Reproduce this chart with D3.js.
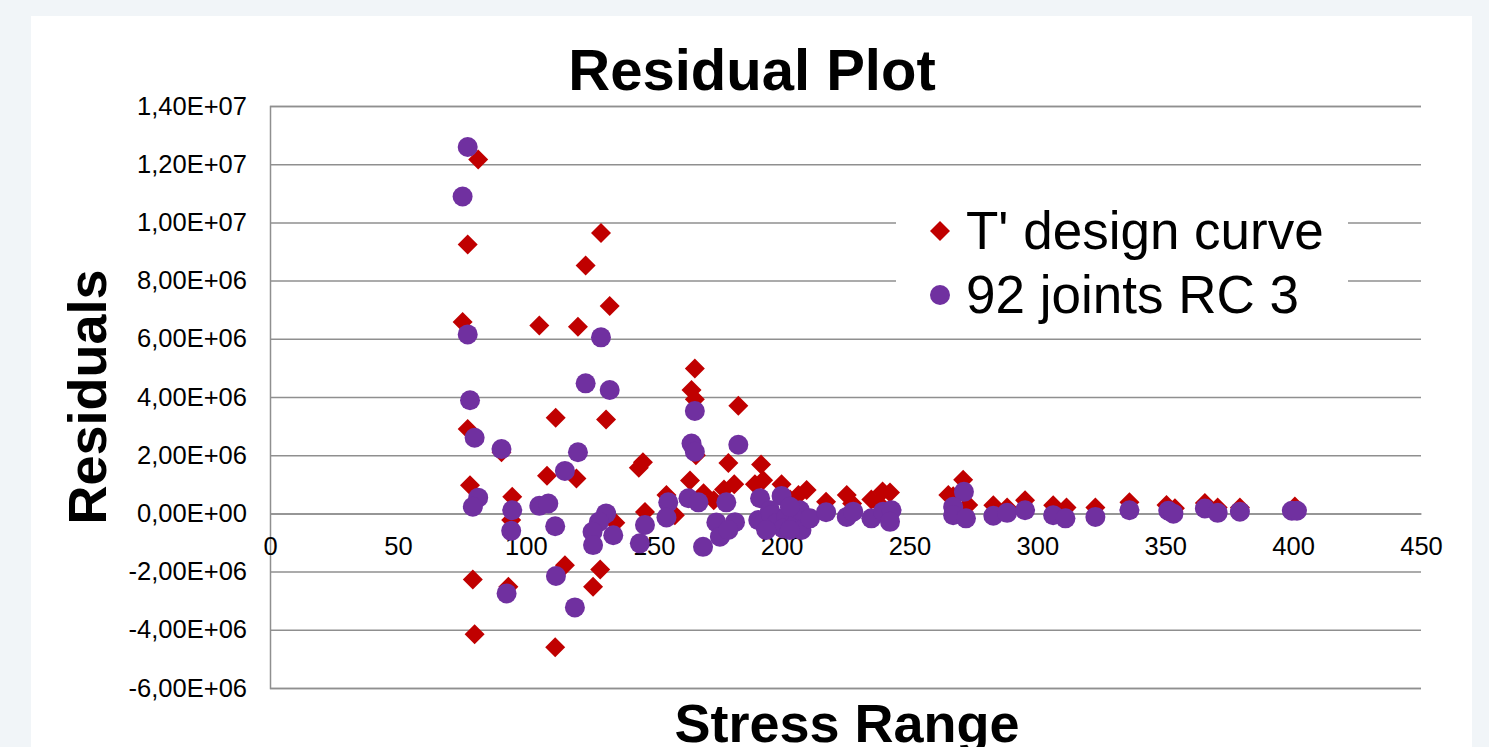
<!DOCTYPE html>
<html>
<head>
<meta charset="utf-8">
<script src="https://cdn.jsdelivr.net/npm/d3@7"></script>
<style>
  body { margin: 0; background: #f1f5f8; overflow: hidden; }
  svg { display: block; font-family: "Liberation Sans", Arial, sans-serif; }
</style>
</head>
<body>
<svg id="chart" width="1489" height="747"></svg>
<script>
// stress range, residual
const designCurve = [
  [81.4, 12.16e6], [77.3, 9.24e6], [129.4, 9.64e6], [123.4, 8.52e6], [132.8, 7.13e6],
  [75.3, 6.58e6], [105.3, 6.46e6], [120.4, 6.41e6], [166.1, 4.98e6], [164.8, 4.24e6],
  [166.1, 3.92e6], [183.1, 3.70e6], [111.7, 3.29e6], [131.4, 3.23e6], [77.3, 2.90e6],
  [90.5, 2.1e6], [166.5, 2.0e6], [192.0, 1.68e6], [179.2, 1.73e6], [145.8, 1.76e6],
  [144.2, 1.57e6], [108.3, 1.29e6], [119.8, 1.20e6], [164.2, 1.13e6], [192.8, 1.14e6],
  [189.6, 1.0e6], [200.0, 1.0e6], [181.5, 1.0e6], [177.5, 0.82e6], [78.2, 0.97e6],
  [169.5, 0.69e6], [155.0, 0.63e6], [94.7, 0.57e6], [173.5, 0.45e6], [209.8, 0.80e6],
  [206.6, 0.63e6], [203.3, 0.48e6], [217.4, 0.40e6], [225.5, 0.63e6], [227.6, 0.34e6],
  [235.1, 0.48e6], [239.5, 0.75e6], [242.4, 0.72e6], [237.8, 0.36e6], [265.2, 0.63e6],
  [271.0, 1.16e6], [267.1, 0.59e6], [273.0, 0.29e6], [282.8, 0.28e6], [288.2, 0.20e6],
  [295.2, 0.45e6], [306.2, 0.28e6], [311.4, 0.20e6], [322.7, 0.20e6], [336.0, 0.38e6],
  [350.5, 0.29e6], [353.8, 0.18e6], [365.5, 0.36e6], [370.5, 0.20e6], [379.2, 0.20e6],
  [400.7, 0.24e6], [146.6, 0.05e6], [94.3, -0.23e6], [135.0, -0.32e6], [158.3, -0.06e6],
  [79.3, -2.27e6], [93.2, -2.52e6], [115.3, -1.78e6], [129.1, -1.93e6], [126.3, -2.52e6],
  [80.0, -4.15e6], [111.5, -4.60e6]
];

const joints = [
  [77.3, 12.59e6], [75.3, 10.89e6], [77.3, 6.15e6], [129.4, 6.05e6], [123.4, 4.47e6],
  [132.8, 4.24e6], [78.2, 3.89e6], [166.1, 3.52e6], [80.0, 2.60e6], [90.5, 2.21e6],
  [164.8, 2.40e6], [166.1, 2.12e6], [183.1, 2.36e6], [120.4, 2.10e6], [115.3, 1.46e6],
  [81.4, 0.54e6], [79.3, 0.23e6], [94.7, 0.11e6], [94.3, -0.60e6], [105.3, 0.26e6],
  [108.8, 0.34e6], [111.5, -0.44e6], [131.4, 0.0], [128.6, -0.29e6], [126.1, -0.63e6],
  [134.2, -0.75e6], [126.3, -1.09e6], [146.6, -0.40e6], [144.6, -1.03e6], [155.7, 0.38e6],
  [155.0, -0.14e6], [163.6, 0.52e6], [167.5, 0.38e6], [178.4, 0.38e6], [174.5, -0.31e6],
  [181.8, -0.30e6], [175.9, -0.80e6], [179.2, -0.57e6], [169.3, -1.15e6],
  [191.6, 0.52e6], [200.0, 0.60e6], [190.9, -0.23e6], [192.9, -0.34e6], [195.5, 0.11e6],
  [196.0, -0.06e6], [198.0, -0.34e6], [201.9, -0.12e6], [200.6, -0.52e6], [205.8, -0.34e6],
  [207.2, 0.11e6], [203.3, 0.23e6], [207.8, -0.57e6], [211.1, -0.17e6], [194.0, -0.57e6],
  [203.2, -0.57e6], [217.4, 0.04e6], [225.5, -0.12e6], [228.0, 0.06e6], [235.1, -0.17e6],
  [239.7, 0.06e6], [243.0, 0.11e6], [242.4, -0.29e6],
  [271.3, 0.74e6], [267.1, 0.23e6], [267.1, -0.06e6], [272.1, -0.17e6], [282.8, -0.08e6],
  [288.2, 0.02e6], [295.2, 0.11e6], [306.2, -0.06e6], [311.0, -0.17e6], [322.7, -0.12e6],
  [336.0, 0.11e6], [351.2, 0.09e6], [353.2, -0.01e6], [365.5, 0.17e6], [370.5, 0.02e6],
  [379.2, 0.06e6], [399.5, 0.09e6], [401.5, 0.09e6],
  [92.5, -2.75e6], [111.8, -2.15e6], [119.2, -3.23e6]
];

const yTicks = [-6e6, -4e6, -2e6, 0, 2e6, 4e6, 6e6, 8e6, 10e6, 12e6, 14e6];
const xTicks = [0, 50, 100, 150, 200, 250, 300, 350, 400, 450];
const seriesNames = ["T' design curve", "92 joints RC 3"];

const RED = "#c00000";
const PURPLE = "#7030a0";
const GRID = "#8f8f8f";

// Excel style "1,40E+07"
function sciLabel(v) {
  if (v === 0) return "0,00E+00";
  const e = Math.floor(Math.log10(Math.abs(v)) + 1e-9);
  const m = v / Math.pow(10, e);
  return m.toFixed(2).replace(".", ",") + "E" + (e < 0 ? "-" : "+") + String(Math.abs(e)).padStart(2, "0");
}

const svg = d3.select("#chart");

// white chart panel
svg.append("rect")
  .attr("x", 31).attr("y", 16)
  .attr("width", 1441).attr("height", 740)
  .attr("fill", "#ffffff");

const x = d3.scaleLinear().domain([0, 450]).range([270, 1421]);
const y = d3.scaleLinear().domain([-6e6, 14e6]).range([688, 106]);

/* gridlines + y labels */
const yAxis = d3.axisLeft(y)
  .tickValues(yTicks)
  .tickSize(-(1421 - 270))
  .tickPadding(23)
  .tickFormat(sciLabel);

const yG = svg.append("g")
  .attr("transform", "translate(270,0)")
  .call(yAxis);

yG.select(".domain").attr("stroke", GRID).attr("stroke-width", 1.5);
yG.selectAll(".tick line").attr("stroke", GRID).attr("stroke-width", 1.5);
yG.selectAll(".tick text")
  .attr("fill", "#000")
  .style("font-size", "25.5px");

/* x labels under the zero line */
const xAxis = d3.axisBottom(x)
  .tickValues(xTicks)
  .tickSize(0)
  .tickPadding(24)
  .tickFormat(d3.format("d"));

const xG = svg.append("g")
  .attr("transform", `translate(0,${y(0)})`)
  .call(xAxis);

xG.select(".domain").attr("stroke", GRID).attr("stroke-width", 1.5);
xG.selectAll(".tick text")
  .attr("fill", "#000")
  .style("font-size", "25.5px");

/* titles */
svg.append("text")
  .attr("x", 752).attr("y", 90)
  .attr("text-anchor", "middle")
  .style("font-size", "58px").style("font-weight", "bold")
  .text("Residual Plot");

svg.append("text")
  .attr("transform", "translate(106,397) rotate(-90)")
  .attr("text-anchor", "middle")
  .style("font-size", "54px").style("font-weight", "bold")
  .text("Residuals");

svg.append("text")
  .attr("x", 847).attr("y", 742)
  .attr("text-anchor", "middle")
  .style("font-size", "54px").style("font-weight", "bold")
  .text("Stress Range");

/* markers */
const diamond = d3.symbol().type(d3.symbolSquare).size(200);

svg.append("g").selectAll("path")
  .data(designCurve)
  .join("path")
  .attr("d", diamond)
  .attr("transform", d => `translate(${x(d[0])},${y(d[1])}) rotate(45)`)
  .attr("fill", RED);

svg.append("g").selectAll("circle")
  .data(joints)
  .join("circle")
  .attr("cx", d => x(d[0]))
  .attr("cy", d => y(d[1]))
  .attr("r", 10)
  .attr("fill", PURPLE);

/* legend */
const legend = svg.append("g");

legend.append("rect")
  .attr("x", 896).attr("y", 190)
  .attr("width", 452).attr("height", 140)
  .attr("fill", "#ffffff");

legend.append("path")
  .attr("d", diamond)
  .attr("transform", "translate(940,231) rotate(45)")
  .attr("fill", RED);

legend.append("circle")
  .attr("cx", 940).attr("cy", 295)
  .attr("r", 10)
  .attr("fill", PURPLE);

legend.selectAll("text")
  .data(seriesNames)
  .join("text")
  .attr("x", 966)
  .attr("y", (d, i) => 249 + i * 64)
  .style("font-size", "53px")
  .text(d => d);
</script>
</body>
</html>
